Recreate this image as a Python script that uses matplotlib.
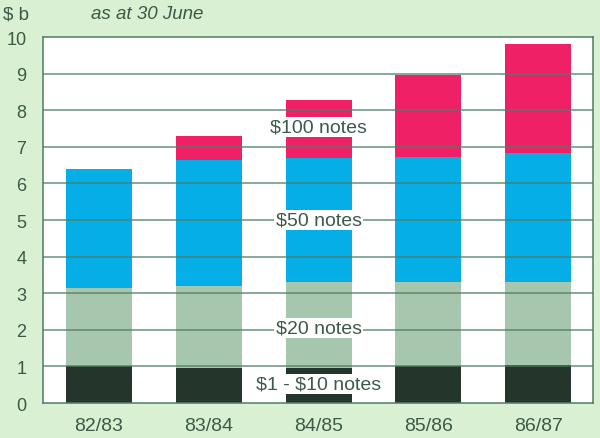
import matplotlib
matplotlib.use('Agg')
import matplotlib.pyplot as plt
import numpy as np

years = ['82/83', '83/84', '84/85', '85/86', '86/87']
# cumulative tops, $ billion
top_small = [1.0, 0.97, 0.95, 1.0, 1.05]
top_20 = [3.15, 3.2, 3.3, 3.3, 3.3]
top_50 = [6.4, 6.65, 6.7, 6.72, 6.83]
top_100 = [6.4, 7.3, 8.27, 8.97, 9.8]

labels = [r'\$1 - \$10 notes', r'\$20 notes', r'\$50 notes', r'\$100 notes']
label_y = [0.52, 2.05, 5.0, 7.54]

bg = '#d9f0d2'
txt = '#3b5a48'
grid_col = '#4f7d64'
colours = ['#24352c', '#a6c6ae', '#06aee8', '#ef2066']

plt.rcParams['font.family'] = ['Liberation Sans', 'DejaVu Sans']

fig = plt.figure(figsize=(6, 4.39), dpi=100, facecolor=bg)
ax = fig.add_axes([0.0717, 0.0797, 0.9167, 0.8337])
ax.set_facecolor('white')

x = np.arange(len(years))
tops = [top_small, top_20, top_50, top_100]
bottom = np.zeros(len(years))
for t, c in zip(tops, colours):
    t = np.array(t)
    ax.bar(x, t - bottom, 0.6, bottom=bottom, color=c, zorder=2)
    bottom = t

for v in range(1, 10):
    ax.axhline(v, color=grid_col, lw=1.1, alpha=0.85, zorder=3)

for lab, yy in zip(labels, label_y):
    ax.text(2, yy, lab, ha='center', va='center', fontsize=14, color=txt,
            zorder=4,
            bbox=dict(boxstyle='square,pad=0.08', fc='white', ec='none'))

ax.set_xlim(-0.51, 4.5)
ax.set_ylim(0, 10)
ax.set_yticks(range(0, 11))
ax.set_xticks(x)
ax.set_xticklabels(years)
ax.tick_params(length=0, colors=txt)
ax.tick_params(axis='y', labelsize=13, pad=12)
ax.tick_params(axis='x', labelsize=14, pad=10)
for s in ax.spines.values():
    s.set_color(grid_col)
    s.set_linewidth(1.1)

fig.text(0.005, 0.966, r'\$ b', fontsize=13.5, color=txt, va='center')
fig.text(0.152, 0.966, 'as at 30 June', fontsize=13.5, color=txt, va='center',
         style='italic')

fig.savefig('out.png', dpi=100, facecolor=bg)
